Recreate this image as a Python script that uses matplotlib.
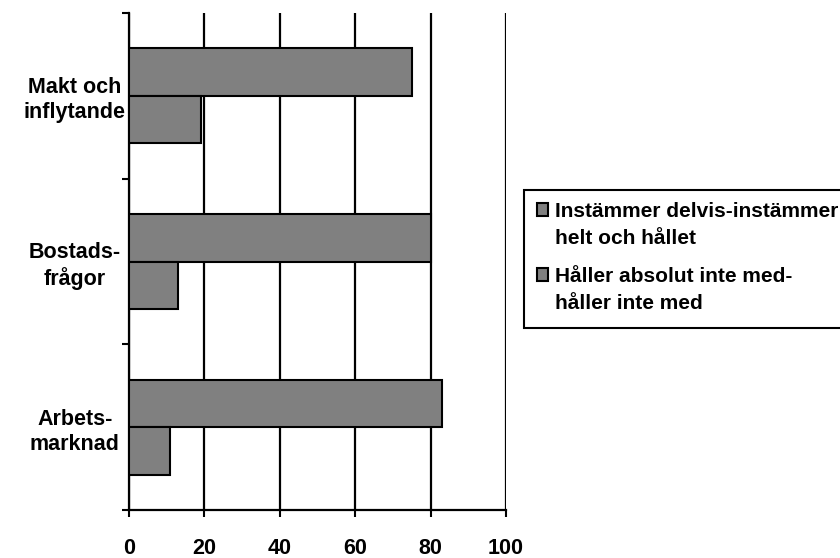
import matplotlib
matplotlib.use("Agg")
import matplotlib.pyplot as plt
from matplotlib.patches import Rectangle
from matplotlib.container import BarContainer
from matplotlib.legend_handler import HandlerPatch, update_from_first_child
import numpy as np

categories = ["Arbets-\nmarknad", "Bostads-\nfrågor", "Makt och\ninflytande"]
series_names = ["Instämmer delvis-instämmer\nhelt och hållet",
                "Håller absolut inte med-\nhåller inte med"]
agree = [83, 80, 75]
disagree = [11, 13, 19]
x_ticks = [0, 20, 40, 60, 80, 100]

plt.rcParams["font.family"] = ["Liberation Sans", "DejaVu Sans"]
plt.rcParams["font.weight"] = "bold"

W, H = 840, 558
fig = plt.figure(figsize=(W / 100, H / 100), dpi=100)
ax = fig.add_axes([129 / W, 1 - 510 / H, (506 - 129) / W, (510 - 13) / H])

y = np.arange(len(categories))
h = 0.287
gray = "#808080"
ax.barh(y + h / 2, agree, height=h, color=gray, edgecolor="black", linewidth=1.5,
        label=series_names[0], zorder=3)
ax.barh(y - h / 2, disagree, height=h, color=gray, edgecolor="black", linewidth=1.5,
        label=series_names[1], zorder=3)

ax.set_xlim(0, 100)
ax.set_ylim(-0.5, len(categories) - 0.5)
ax.set_xticks(x_ticks)
ax.set_xticklabels([str(t) for t in x_ticks], fontsize=15.5, fontweight="bold")
ax.tick_params(axis="x", direction="out", length=5, width=1.5, pad=15)

# category boundaries carry the tick marks, labels sit at the centres
ax.set_yticks(np.arange(-0.5, len(categories), 1.0))
ax.set_yticklabels([])
ax.set_yticks(y, minor=True)
ax.set_yticklabels(categories, minor=True, fontsize=15.5, fontweight="bold",
                   ha="center", multialignment="center", linespacing=1.25)
ax.tick_params(axis="y", which="major", direction="out", length=5, width=1.5)
ax.tick_params(axis="y", which="minor", length=0, pad=39)

ax.xaxis.grid(True, color="black", linewidth=1.6, zorder=0)
for s in ["top", "right"]:
    ax.spines[s].set_visible(False)
for s in ["left", "bottom"]:
    ax.spines[s].set_linewidth(1.6)


def first_line_square(legend, orig_handle, xdescent, ydescent, width, height, fontsize):
    # lift the key square up to the first line of a two-line label
    return Rectangle((-xdescent, -ydescent + 0.74 * fontsize), width, height)


# legend box runs off the right edge of the figure
fig.patches.append(Rectangle((524 / W, 1 - 328 / H), 330 / W, 138 / H,
                             transform=fig.transFigure, facecolor="white",
                             edgecolor="black", linewidth=1.5, zorder=1))
leg = fig.legend(loc="upper left", bbox_to_anchor=(537 / W, 1 - 202 / H),
                 fontsize=15, frameon=False,
                 handlelength=0.55, handleheight=0.55, handletextpad=0.3,
                 labelspacing=0.95, borderpad=0, borderaxespad=0,
                 handler_map={BarContainer: HandlerPatch(
                     patch_func=first_line_square,
                     update_func=update_from_first_child)})
leg.set_zorder(2)
for t in leg.get_texts():
    t.set_fontweight("bold")
    t.set_linespacing(1.5)
for p in leg.get_patches():
    p.set_linewidth(1.5)

fig.savefig("out.png", dpi=100)
